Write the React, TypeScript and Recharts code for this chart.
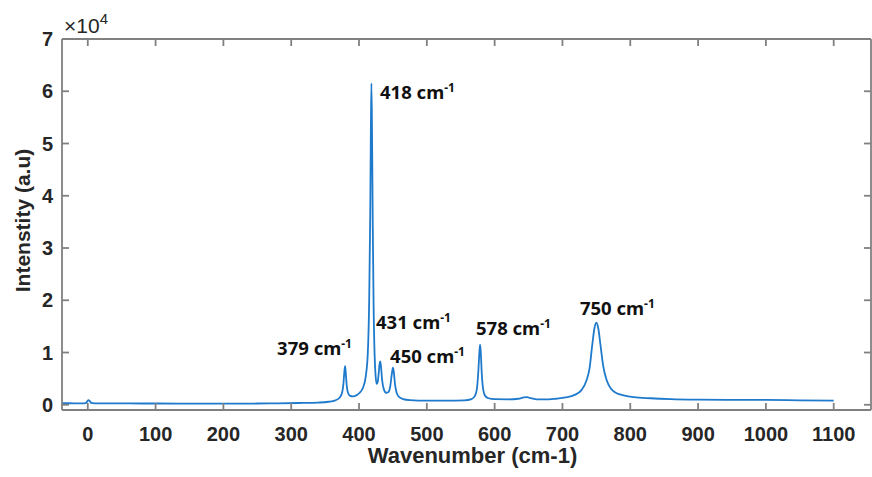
import React from 'react';
import { LineChart, Line, XAxis, YAxis, ReferenceDot } from 'recharts';

// ---- data ----
const xTicks = [0, 100, 200, 300, 400, 500, 600, 700, 800, 900, 1000, 1100];
const yTicks = [0, 10000, 20000, 30000, 40000, 50000, 60000, 70000];

const waveNumber = [
  -38, -20, -8, -3, -1, 1, 3, 5, 10, 30, 60, 100, 150, 200, 250, 280, 310, 340, 355, 365,
  371, 375, 377, 378.5, 379.5, 380.5, 382, 384, 387, 391, 396, 401, 406, 410, 413, 415,
  416.5, 417.5, 418.3, 419.2, 420.3, 421.5, 423, 424.5, 426, 427.5, 429, 430.3, 431.3,
  432.5, 434, 436.5, 440, 443, 446, 448.5, 450, 451.3, 453, 455.5, 459, 465, 475, 500,
  530, 555, 566, 571, 574, 576, 577.5, 578.5, 579.5, 581, 583, 586, 591, 600, 620, 635,
  643, 648, 653, 662, 680, 690, 705, 718, 728, 735, 740, 744, 747, 750, 753, 756, 760,
  765, 772, 780, 790, 805, 830, 860, 900, 950, 1000, 1050, 1100,
];
const intensity = [
  300, 280, 270, 320, 600, 900, 700, 350, 280, 260, 250, 240, 230, 220, 240, 280, 340, 430, 580, 850,
  1300, 2300, 4000, 6500, 7400, 6000, 3500, 2200, 1700, 1600, 1800, 2300, 3300, 5500, 10000, 20000,
  36000, 53000, 61500, 52000, 34000, 19000, 9500, 5500, 4000, 4300, 6000, 7800, 8300,
  7200, 4800, 3000, 2300, 2400, 3500, 6000, 7100, 6300, 4000, 2300, 1500, 1100, 900, 780,
  780, 850, 1100, 1700, 3200, 6500, 10000, 11500, 10200, 6000, 3000, 1700, 1250, 1080, 1050, 1150,
  1400, 1450, 1250, 1050, 1050, 1150, 1400, 1900, 2800, 4500, 7000, 11500, 14500, 15700, 14500, 11500, 7500,
  4800, 3000, 2200, 1800, 1450, 1250, 1100, 1000, 950, 930, 860, 800,
];

const peakNames = ['418', '379', '431', '450', '578', '750'];
const peakLabelX = [431, 279.2, 425.1, 445.8, 572.5, 725.8];
const peakLabelY = [58516, 9525, 14501, 7994, 13353, 17180];

const spectrum = waveNumber.map((x, i) => ({ x, y: intensity[i] }));

const X_DOMAIN = [-38, 1155];
const Y_DOMAIN = [-1000, 70000];

const AXIS = '#808080';
const TXT = '#262626';
const FONT = '"Liberation Sans", Arial, sans-serif';
const TICK_LEN = 7;
const X_LABEL_GAP = 17;
const Y_LABEL_GAP = 9;

const BottomTick = (p: any) => {
  const axisY = p.y - X_LABEL_GAP;
  return (
    <g>
      <line x1={p.x} x2={p.x} y1={axisY} y2={axisY - TICK_LEN} stroke={AXIS} strokeWidth={1.8} />
      <text x={p.x} y={p.y} dy="0.71em" textAnchor="middle" fontFamily={FONT} fontWeight="bold" fontSize={20} fill={TXT}>
        {p.payload.value}
      </text>
    </g>
  );
};

const LeftTick = (p: any) => {
  const axisX = p.x + Y_LABEL_GAP;
  return (
    <g>
      <line x1={axisX} x2={axisX + TICK_LEN} y1={p.y} y2={p.y} stroke={AXIS} strokeWidth={1.8} />
      <text x={p.x} y={p.y} dy="0.355em" textAnchor="end" fontFamily={FONT} fontWeight="bold" fontSize={20} fill={TXT}>
        {p.payload.value / 10000}
      </text>
    </g>
  );
};

const TopTick = (p: any) => (
  <line x1={p.x} x2={p.x} y1={p.y} y2={p.y + TICK_LEN} stroke={AXIS} strokeWidth={1.8} />
);

const RightTick = (p: any) => (
  <line x1={p.x} x2={p.x - TICK_LEN} y1={p.y} y2={p.y} stroke={AXIS} strokeWidth={1.8} />
);

const PeakText = (props: any) => {
  const vb = props.viewBox || {};
  return (
    <text x={vb.x} y={vb.y} fontFamily='"Noto Sans", sans-serif' fontWeight="bold" fontSize={18.5} fill="#111">
      {props.txt} cm
      <tspan dy={-7} fontSize={12}>-1</tspan>
    </text>
  );
};

const YTitle = (props: any) => {
  const vb = props.viewBox || { x: 0, y: 39, width: 62, height: 371 };
  const cx = vb.x + 30;
  const cy = vb.y + vb.height / 2 - 4;
  return (
    <text x={cx} y={cy} transform={`rotate(-90, ${cx}, ${cy})`} textAnchor="middle"
      fontFamily={FONT} fontWeight="bold" fontSize={21} fill={TXT}>
      Intenstity (a.u)
    </text>
  );
};

const XTitle = (props: any) => {
  const vb = props.viewBox || { x: 62, y: 410, width: 809, height: 67 };
  return (
    <text x={vb.x + vb.width / 2 + 6} y={vb.y + 53} textAnchor="middle"
      fontFamily={FONT} fontWeight="bold" fontSize={22} fill={TXT}>
      Wavenumber (cm-1)
    </text>
  );
};

const Exponent = (props: any) => {
  const vb = props.viewBox || { x: 62, y: 38 };
  return (
    <text x={vb.x + 2} y={vb.y - 5} fontFamily={FONT} fontSize={21} fill={TXT}>
      ×10
      <tspan dy={-9} fontSize={15}>4</tspan>
    </text>
  );
};

export default function App() {
  return (
    <div style={{ position: 'absolute', left: 0, top: 0, width: 872, height: 477, background: '#fff' }}>
      <LineChart width={872} height={477} data={spectrum} margin={{ top: 38, right: 0, bottom: 0, left: 0 }}>
        <XAxis
          xAxisId="b"
          dataKey="x"
          type="number"
          domain={X_DOMAIN}
          allowDataOverflow
          ticks={xTicks}
          interval={0}
          height={67}
          stroke={AXIS}
          strokeWidth={1.8}
          tickLine={false}
          tickSize={0}
          tickMargin={X_LABEL_GAP}
          tick={<BottomTick />}
          label={<XTitle />}
        />
        <XAxis
          xAxisId="t"
          orientation="top"
          dataKey="x"
          type="number"
          domain={X_DOMAIN}
          allowDataOverflow
          ticks={xTicks}
          interval={0}
          height={1}
          stroke={AXIS}
          strokeWidth={1.8}
          tickLine={false}
          tickSize={0}
          tickMargin={0}
          tick={<TopTick />}
          label={<Exponent />}
        />
        <YAxis
          yAxisId="l"
          type="number"
          domain={Y_DOMAIN}
          allowDataOverflow
          ticks={yTicks}
          interval={0}
          width={62}
          stroke={AXIS}
          strokeWidth={1.8}
          tickLine={false}
          tickSize={0}
          tickMargin={Y_LABEL_GAP}
          tick={<LeftTick />}
          label={<YTitle />}
        />
        <YAxis
          yAxisId="r"
          orientation="right"
          type="number"
          domain={Y_DOMAIN}
          allowDataOverflow
          ticks={yTicks}
          interval={0}
          width={1}
          stroke={AXIS}
          strokeWidth={1.8}
          tickLine={false}
          tickSize={0}
          tickMargin={0}
          tick={<RightTick />}
        />
        <Line
          xAxisId="b"
          yAxisId="l"
          dataKey="y"
          type="monotone"
          stroke="#1f7acc"
          strokeWidth={1.8}
          dot={false}
          isAnimationActive={false}
        />
        {peakNames.map((name, i) => (
          <ReferenceDot
            key={name}
            xAxisId="b"
            yAxisId="l"
            x={peakLabelX[i]}
            y={peakLabelY[i]}
            r={0}
            fill="none"
            stroke="none"
            label={<PeakText txt={name} />}
          />
        ))}
      </LineChart>
    </div>
  );
}
